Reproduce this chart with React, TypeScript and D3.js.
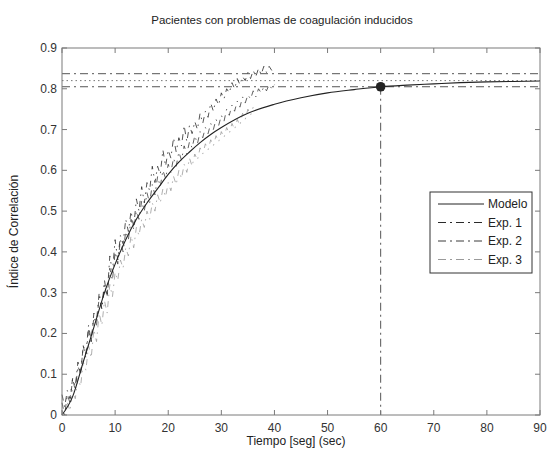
import React from "react";
import * as d3 from "d3";

const W = 548;
const H = 449;
const M = { left: 62, right: 540, top: 48, bottom: 415 };

const title = "Pacientes con problemas de coagulación inducidos";
const xLabel = "Tiempo [seg] (sec)";
const yLabel = "Índice de Correlación";

const xTicks = [0, 10, 20, 30, 40, 50, 60, 70, 80, 90];
const yTicks = [0, 0.1, 0.2, 0.3, 0.4, 0.5, 0.6, 0.7, 0.8, 0.9];

// Model curve
const modelT = [0, 2, 4, 6, 8, 10, 12, 14, 16, 18, 20, 22, 24, 26, 28, 30, 35, 40, 45, 50, 55, 60, 65, 70, 75, 80, 85, 90];
const modelY = [0, 0.045, 0.13, 0.215, 0.3, 0.37, 0.43, 0.48, 0.52, 0.555, 0.59, 0.62, 0.645, 0.668, 0.688, 0.705, 0.74, 0.762, 0.778, 0.79, 0.798, 0.805, 0.809, 0.812, 0.815, 0.817, 0.818, 0.819];

// Experimental series, sampled every 0.5 s
const exp1Y = [
  0.05, 0.02, 0.06, 0.04, 0.09, 0.07, 0.13, 0.1, 0.17, 0.15,
  0.22, 0.18, 0.25, 0.23, 0.3, 0.26, 0.33, 0.29, 0.39, 0.35,
  0.43, 0.38, 0.44, 0.42, 0.48, 0.45, 0.5, 0.46, 0.53, 0.5,
  0.56, 0.52, 0.57, 0.55, 0.61, 0.57, 0.61, 0.59, 0.65, 0.61,
  0.65, 0.63, 0.68, 0.645, 0.68, 0.66, 0.71, 0.67, 0.71, 0.69,
  0.72, 0.7, 0.74, 0.715, 0.745, 0.73, 0.765, 0.745, 0.775, 0.76,
  0.79, 0.775, 0.8, 0.79, 0.815, 0.8, 0.825, 0.81, 0.83, 0.82,
  0.84, 0.825, 0.845, 0.83, 0.85, 0.835, 0.855, 0.84, 0.855, 0.845,
  0.85,
];
const exp2Y = [
  0.03, 0.0, 0.05, 0.03, 0.09, 0.06, 0.12, 0.1, 0.17, 0.14,
  0.21, 0.18, 0.24, 0.22, 0.29, 0.26, 0.32, 0.29, 0.36, 0.33,
  0.4, 0.37, 0.43, 0.4, 0.45, 0.43, 0.48, 0.455, 0.5, 0.48,
  0.525, 0.5, 0.545, 0.52, 0.565, 0.54, 0.585, 0.56, 0.6, 0.58,
  0.615, 0.595, 0.63, 0.61, 0.645, 0.625, 0.66, 0.64, 0.67, 0.655,
  0.685, 0.665, 0.695, 0.68, 0.705, 0.69, 0.715, 0.7, 0.725, 0.71,
  0.735, 0.72, 0.75, 0.735, 0.76, 0.745, 0.77, 0.755, 0.78, 0.765,
  0.785, 0.775, 0.795, 0.78, 0.8, 0.79, 0.805, 0.795, 0.81, 0.8,
  0.81,
];
const exp3Y = [
  0.01, 0.0, 0.03, 0.01, 0.06, 0.04, 0.09, 0.07, 0.13, 0.11,
  0.17, 0.14, 0.21, 0.18, 0.25, 0.22, 0.28, 0.25, 0.32, 0.29,
  0.35, 0.33, 0.38, 0.36, 0.41, 0.39, 0.44, 0.41, 0.46, 0.44,
  0.48, 0.46, 0.5, 0.48, 0.52, 0.5, 0.54, 0.52, 0.555, 0.535,
  0.57, 0.55, 0.585, 0.565, 0.6, 0.58, 0.615, 0.595, 0.63, 0.61,
  0.64, 0.625, 0.655, 0.64, 0.665, 0.65, 0.675, 0.66, 0.685, 0.67,
  0.695, 0.68, 0.705, 0.69, 0.715, 0.7, 0.725, 0.71, 0.74, 0.725,
  0.75, 0.735, 0.755,
];

const refLines = [0.837, 0.805];
const asymptote = 0.82;
const markerT = 60;
const markerY = 0.805;

const legendItems = ["Modelo", "Exp. 1", "Exp. 2", "Exp. 3"];

const FONT = "'Liberation Sans', Arial, Helvetica, sans-serif";
const DASHDOT = "8,4,2,4";
const SERIES_DASH = "6,5,1.5,5";

export default function App() {
  const x = d3.scaleLinear().domain([0, 90]).range([M.left, M.right]);
  const y = d3.scaleLinear().domain([0, 0.9]).range([M.bottom, M.top]);

  const toPts = (ys: number[]) => ys.map((v, i) => [i * 0.5, v] as [number, number]);
  const line = d3.line<[number, number]>().x((d) => x(d[0])).y((d) => y(d[1]));
  const modelLine = d3
    .line<[number, number]>()
    .x((d) => x(d[0]))
    .y((d) => y(d[1]))
    .curve(d3.curveMonotoneX);
  const modelPts = modelT.map((t, i) => [t, modelY[i]] as [number, number]);

  const series = [
    { ys: exp1Y, color: "#2a2a2a" },
    { ys: exp2Y, color: "#3a3a3a" },
    { ys: exp3Y, color: "#9a9a9a" },
  ];

  const axisColor = "#7a7a7a";
  const tickLen = 5;

  const lg = { x: 430, y: 192, w: 102, h: 81 };
  const lgRows = [204, 222.5, 241, 259.5];
  const lgStyles = [
    { color: "#222", dash: undefined },
    { color: "#2a2a2a", dash: DASHDOT },
    { color: "#3a3a3a", dash: DASHDOT },
    { color: "#9a9a9a", dash: DASHDOT },
  ];

  return (
    <svg
      width={W}
      height={H}
      style={{ position: "absolute", left: 0, top: 0, background: "#fff" }}
      fontFamily={FONT}
    >
      <rect x={0} y={0} width={W} height={H} fill="#fff" />
      <text x={282} y={24} fontSize={11.5} textAnchor="middle" fill="#222">
        {title}
      </text>

      {/* horizontal reference lines */}
      {refLines.map((v, i) => (
        <line
          key={"ref" + i}
          x1={x(0)}
          x2={x(90)}
          y1={y(v)}
          y2={y(v)}
          stroke="#555"
          strokeWidth={1}
          strokeDasharray={DASHDOT}
        />
      ))}
      <line
        x1={x(0)}
        x2={x(90)}
        y1={y(asymptote)}
        y2={y(asymptote)}
        stroke="#777"
        strokeWidth={1}
        strokeDasharray="1.5,3"
      />
      <line
        x1={x(markerT)}
        x2={x(markerT)}
        y1={y(markerY)}
        y2={y(0)}
        stroke="#555"
        strokeWidth={1}
        strokeDasharray={DASHDOT}
      />

      {/* experiments */}
      {series
        .slice()
        .reverse()
        .map((s, i) => (
          <path
            key={"s" + i}
            d={line(toPts(s.ys)) || ""}
            fill="none"
            stroke={s.color}
            strokeWidth={0.8}
            strokeDasharray={SERIES_DASH}
          />
        ))}

      {/* model */}
      <path d={modelLine(modelPts) || ""} fill="none" stroke="#222" strokeWidth={1.1} />
      <circle cx={x(markerT)} cy={y(markerY)} r={4.8} fill="#222" />

      {/* frame */}
      <rect
        x={M.left}
        y={M.top}
        width={M.right - M.left}
        height={M.bottom - M.top}
        fill="none"
        stroke={axisColor}
        strokeWidth={1}
      />
      {xTicks.map((t) => (
        <g key={"xt" + t}>
          <line x1={x(t)} x2={x(t)} y1={M.bottom} y2={M.bottom - tickLen} stroke={axisColor} />
          <line x1={x(t)} x2={x(t)} y1={M.top} y2={M.top + tickLen} stroke={axisColor} />
          <text x={x(t)} y={M.bottom + 17} fontSize={12} textAnchor="middle" fill="#333">
            {t}
          </text>
        </g>
      ))}
      {yTicks.map((t) => (
        <g key={"yt" + t}>
          <line x1={M.left} x2={M.left + tickLen} y1={y(t)} y2={y(t)} stroke={axisColor} />
          <line x1={M.right} x2={M.right - tickLen} y1={y(t)} y2={y(t)} stroke={axisColor} />
          <text x={M.left - 5} y={y(t) + 4} fontSize={12} textAnchor="end" fill="#333">
            {t === 0 ? "0" : d3.format(".1f")(t)}
          </text>
        </g>
      ))}

      <text x={296} y={445} fontSize={12} textAnchor="middle" fill="#222">
        {xLabel}
      </text>
      <text
        transform={`translate(18,${(M.top + M.bottom) / 2}) rotate(-90)`}
        fontSize={12}
        textAnchor="middle"
        fill="#222"
      >
        {yLabel}
      </text>

      {/* legend */}
      <rect x={lg.x} y={lg.y} width={lg.w} height={lg.h} fill="#fff" stroke="#333" strokeWidth={1} />
      {legendItems.map((name, i) => (
        <g key={"lg" + i}>
          <line
            x1={438}
            x2={484}
            y1={lgRows[i]}
            y2={lgRows[i]}
            stroke={lgStyles[i].color}
            strokeWidth={1}
            strokeDasharray={lgStyles[i].dash}
          />
          <text x={488} y={lgRows[i] + 4} fontSize={12} fill="#222">
            {name}
          </text>
        </g>
      ))}
    </svg>
  );
}
